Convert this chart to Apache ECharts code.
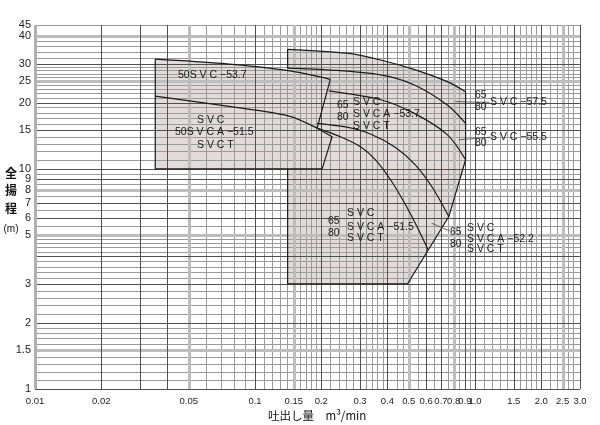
<!DOCTYPE html>
<html><head><meta charset="utf-8">
<script src="https://cdn.jsdelivr.net/npm/echarts@6/dist/echarts.min.js"></script>
<style>html,body{margin:0;padding:0;background:#fff}#c{width:600px;height:425px}</style>
</head><body><div id="c"></div>
<script>
// ---- tick labels ----
const xTickValues = [0.01,0.02,0.05,0.1,0.15,0.2,0.3,0.4,0.5,0.6,0.7,0.8,0.9,1.0,1.5,2.0,2.5,3.0];
const xTickLabels = ['0.01','0.02','0.05','0.1','0.15','0.2','0.3','0.4','0.5','0.6','0.7','0.8','0.9','1.0','1.5','2.0','2.5','3.0'];
const yTickValues = [1,1.5,2,3,5,6,7,8,9,10,15,20,25,30,40,45];
const yTickLabels = ['1','1.5','2','3','5','6','7','8','9','10','15','20','25','30','40','45'];

// ---- log paper grid values ----
const xGridLight = [0.06,0.07,0.08,0.09,0.11,0.12,0.13,0.14,0.16,0.17,0.18,0.19,0.22,0.24,0.26,0.28,0.32,0.34,0.36,0.38,0.44,0.47,0.55,0.65,0.75,0.85,0.95,1.1,1.2,1.3,1.4,1.6,1.7,1.8,1.9,2.2,2.35,2.65,2.8];
const xGridDark = [0.02,0.03,0.04,0.1,0.2,0.3,0.4,0.6,0.7,0.9,1.0,1.5,2.0,3.0];
const xGridHeavy = [0.05,0.15,0.5,0.8,2.5];
const yGridLight = [1.1,1.2,1.3,1.4,1.6,1.7,1.8,1.9,2.2,2.4,2.6,2.8,3.2,3.4,3.6,3.8,4.2,4.4,4.6,4.8,5.5,6.5,7.5,8.5,9.5,11,12,13,14,16,17,18,19,21,22,23,24,26,27,28,29,32,34,36,38,45];
const yGridDark = [1,2,3,4,6,7,9,10,15,20,30];
const yGridHeavy = [1.5,5,8,25,40];

// ---- 50SVC region curves ----
const aTop = [[0.0352,31.5],[0.0708,30.1],[0.1415,27.9],[0.22,25.5]];
const aLow = [[0.0352,21.4],[0.0708,19.4],[0.1415,17.4],[0.1915,15.3]];
const aEdge = [[0.22,25.5],[0.1915,15.3],[0.2241,14.0],[0.2018,10.0],[0.0352,10.0],[0.0352,31.5]];

// ---- 65/80 region curves ----
const bTop = [[0.1407,34.9],[0.262,33.5],[0.372,31.2],[0.527,28.3],[0.748,24.9],[0.906,22.4]];
const bEdgeRight = [[0.906,22.4],[0.906,11.0],[0.76,6.07],[0.493,3.0],[0.1407,3.0],[0.1407,10.0]];
const bEdgeLeft = [[0.1407,28.65],[0.1407,34.9]];
const c575 = [[0.1407,28.65],[0.22,28.1],[0.372,26.7],[0.527,24.1],[0.748,19.5],[0.906,16.1]];
const c555 = [[0.2163,22.6],[0.372,20.6],[0.527,17.9],[0.748,14.3],[0.906,11.0]];
const c537 = [[0.1915,16.1],[0.2576,15.5],[0.3348,14.4],[0.4351,12.5],[0.5366,10.4],[0.6412,8.2],[0.76,6.07]];
const c515 = [[0.1915,15.3],[0.2445,13.98],[0.3015,12.59],[0.3529,10.99],[0.4129,8.92],[0.4832,6.87],[0.548,5.40],[0.612,4.29]];

// ---- leader lines ----
const lead575 = [[0.816,20.2],[1.165,20.04]];
const lead555 = [[0.845,13.54],[1.178,13.93]];
const lead522 = [[0.635,5.66],[0.766,5.23]];

const X0 = 0.01, X1 = 3, Y0 = 1, Y1 = 45;
const FILL = '#e3dada';
const LATIN = '"Liberation Sans", Arial, sans-serif';
const CJK = '"Noto Sans CJK JP", sans-serif';

function crisp(v, w) { return w % 2 === 1 ? Math.round(v) + 0.5 : Math.round(v); }

function gridLines(vals, dim, color, width) {
  return {
    type: 'custom', silent: true, z: 2, animation: false, clip: false,
    data: vals.map(v => dim === 'x' ? [v, Y0] : [X0, v]),
    renderItem(params, api) {
      let a, b;
      if (dim === 'x') { const v = api.value(0); a = api.coord([v, Y0]); b = api.coord([v, Y1]);
        const x = crisp(a[0], width); return {type:'line', shape:{x1:x,y1:a[1],x2:x,y2:b[1]}, style:{stroke:color,lineWidth:width}}; }
      else { const v = api.value(1); a = api.coord([X0, v]); b = api.coord([X1, v]);
        const y = crisp(a[1], width); return {type:'line', shape:{x1:a[0],y1:y,x2:b[0],y2:y}, style:{stroke:color,lineWidth:width}}; }
    }
  };
}
function fillPoly(pts) {
  return {
    type: 'custom', silent: true, z: 1, animation: false, clip: false,
    data: [pts[0]],
    renderItem(params, api) {
      return {type:'polygon', shape:{points: pts.map(p => api.coord(p))}, style:{fill: FILL, stroke: FILL, lineWidth: 0.5}};
    }
  };
}
function curve(data, smooth, color, width) {
  return {type:'line', data, smooth: smooth, symbol:'none', silent:true, animation:false, z:5,
    lineStyle:{color: color || '#1a1a1a', width: width || 1.2}};
}
function tickText(vals, labels, dim) {
  return {
    type: 'custom', silent: true, z: 6, animation: false, clip: false,
    data: vals.map(v => dim === 'x' ? [v, Y0] : [X0, v]),
    renderItem(params, api) {
      const p = api.coord([api.value(0), api.value(1)]);
      const t = labels[params.dataIndex];
      if (dim === 'x') return {type:'text', x:p[0], y:p[1] + 12, style:{text:t, fill:'#222', font:'9.5px ' + LATIN, align:'center', verticalAlign:'middle'}};
      return {type:'text', x:p[0] - 4, y:p[1], style:{text:t, fill:'#222', font:'11px ' + LATIN, align:'right', verticalAlign:'middle'}};
    }
  };
}

const texts = [
  ['50S V C −53.7', 178, 75],
  ['S V C', 197, 120], ['50S V C A −51.5', 175, 132], ['S V C T', 197, 145],
  ['65', 337, 105], ['80', 337, 117], ['S V C', 353, 102], ['S V C A −53.7', 353, 114], ['S V C T', 353, 126],
  ['65', 475, 95], ['80', 475, 107], ['S V C −57.5', 490, 102],
  ['65', 475, 132], ['80', 475, 143], ['S V C −55.5', 490, 137],
  ['65', 450, 232], ['80', 450, 244], ['S V C', 467, 228], ['S V C A −52.2', 467, 239], ['S V C T', 467, 249],
  ['65', 328, 221], ['80', 328, 233], ['S V C', 347, 213], ['S V C A −51.5', 347, 227], ['S V C T', 347, 238]
];
const graphic = texts.map(t => ({type:'text', x:t[1], y:t[2], z:10, silent:true,
  style:{text:t[0], fill:'#1a1a1a', font:'10.5px ' + LATIN, verticalAlign:'middle'}}));
graphic.push({type:'text', x:268, y:416, silent:true, style:{text:'吐出し量　m³/min', fill:'#111', font:'11.5px ' + CJK, verticalAlign:'middle'}});
['全','揚','程'].forEach((c, i) => graphic.push({type:'text', x:11, y:173 + i * 17.6, silent:true,
  style:{text:c, fill:'#111', font:'bold 12px ' + CJK, align:'center', verticalAlign:'middle'}}));
graphic.push({type:'text', x:11, y:229, silent:true, style:{text:'(m)', fill:'#111', font:'10px ' + LATIN, align:'center', verticalAlign:'middle'}});

const chart = echarts.init(document.getElementById('c'), null, {renderer:'canvas'});
chart.setOption({
  animation: false,
  backgroundColor: '#fff',
  grid: {left:35, right:20, top:25, bottom:36},
  xAxis: {type:'log', logBase:10, min:X0, max:X1, axisLine:{show:false}, axisTick:{show:false}, axisLabel:{show:false}, splitLine:{show:false}},
  yAxis: {type:'log', logBase:10, min:Y0, max:Y1, axisLine:{show:false}, axisTick:{show:false}, axisLabel:{show:false}, splitLine:{show:false}},
  graphic: graphic,
  series: [
    fillPoly(aTop.concat(aEdge.slice(1))),
    fillPoly(bTop.concat(bEdgeRight.slice(1))),
    gridLines(xGridLight, 'x', '#9a9a9a', 1),
    gridLines(yGridLight, 'y', '#9a9a9a', 1),
    gridLines(xGridHeavy, 'x', '#bdbdbd', 3),
    gridLines(yGridHeavy, 'y', '#bdbdbd', 3),
    gridLines(xGridDark, 'x', '#505050', 1),
    gridLines(yGridDark, 'y', '#505050', 1),
    gridLines([X0], 'x', '#b0b0b0', 3),
    curve(aTop, 0.3), curve(aLow, 0.3), curve(aEdge, false),
    curve(bTop, 0.3), curve(bEdgeRight, false), curve(bEdgeLeft, false),
    curve(c575, 0.3), curve(c555, 0.3), curve(c537, 0.3), curve(c515, 0.3),
    curve(lead575, false, '#444', 0.8), curve(lead555, false, '#444', 0.8), curve(lead522, false, '#444', 0.8),
    tickText(xTickValues, xTickLabels, 'x'),
    tickText(yTickValues, yTickLabels, 'y')
  ]
});
</script></body></html>
